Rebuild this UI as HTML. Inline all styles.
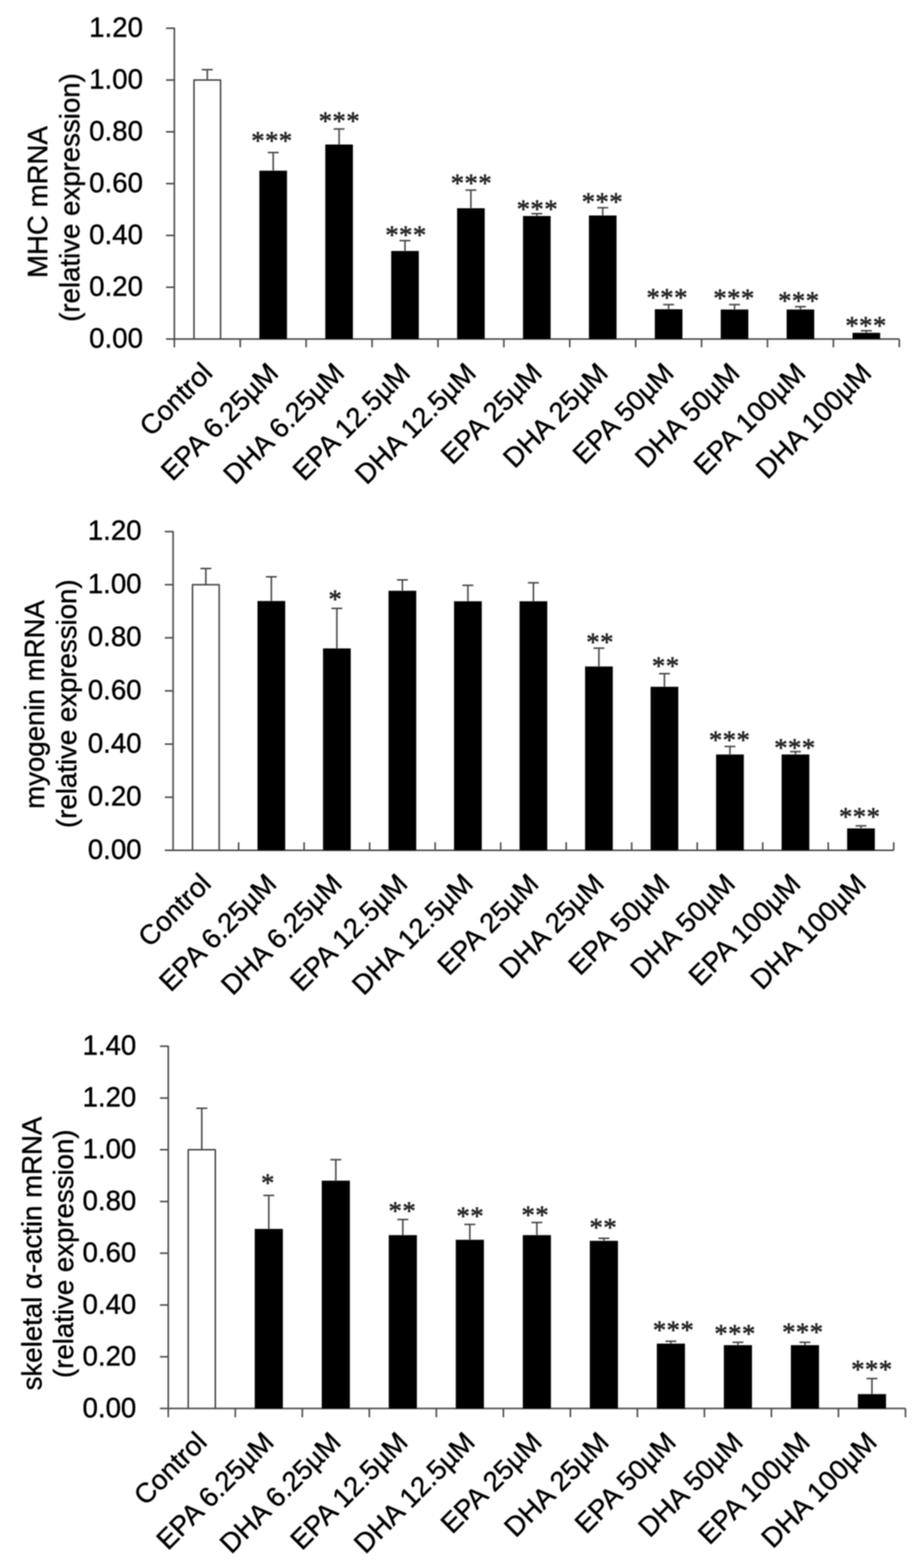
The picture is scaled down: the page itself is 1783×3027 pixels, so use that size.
<!DOCTYPE html>
<html lang="en">
<head>
<meta charset="utf-8">
<title>Relative mRNA expression</title>
<style>
html,body{margin:0;padding:0;background:#fff;}
body{width:1783px;height:3027px;overflow:hidden;}
svg{display:block;}
text{font-family:"Liberation Sans", sans-serif;font-size:53.3px;fill:#000;stroke:#000;stroke-width:0.8px;stroke-linejoin:round;}
.ln{fill:none;stroke:#484848;stroke-width:3;stroke-linejoin:round;}
.bar{fill:#000;}
.ctl{fill:none;stroke:#484848;stroke-width:3;stroke-linejoin:round;}
.tk{text-anchor:end;}
.xl{text-anchor:end;}
.yt{text-anchor:middle;}
.st{font-family:"Liberation Serif", serif;font-size:51.5px;letter-spacing:0.9px;text-anchor:middle;fill:#262626;stroke:#262626;stroke-width:1.1px;}
</style>
</head>
<body>
<svg width="1783" height="3027" viewBox="0 0 1783 3027">
<defs><filter id="soft" x="0" y="0" width="1783" height="3027" filterUnits="userSpaceOnUse"><feGaussianBlur stdDeviation="1"/></filter></defs>
<rect width="1783" height="3027" fill="#fff"/>
<g filter="url(#soft)">
<g class="chart">
<path class="ln" d="M320.4 54.5H336.4V654.5M320.4 654.5H1735.32M320.4 554.5H336.4M320.4 454.5H336.4M320.4 354.5H336.4M320.4 254.5H336.4M320.4 154.5H336.4M336.4 654.5v16M463.57 654.5v16M590.75 654.5v16M717.92 654.5v16M845.1 654.5v16M972.27 654.5v16M1099.45 654.5v16M1226.62 654.5v16M1353.8 654.5v16M1480.97 654.5v16M1608.15 654.5v16M1735.32 654.5v16"/>
<path class="ln" d="M399.99 154.5V134.5M389.49 134.5H410.49"/>
<path class="ctl" d="M374.34 654.5V154.5H425.64V654.5"/>
<path class="ln" d="M527.16 329.5V294.5M516.66 294.5H537.66"/>
<rect class="bar" x="500.51" y="329.5" width="53.3" height="325.3"/>
<text class="st" x="524.75" y="288.2">***</text>
<path class="ln" d="M654.34 279V249M643.84 249H664.84"/>
<rect class="bar" x="627.69" y="279" width="53.3" height="375.8"/>
<text class="st" x="654.95" y="249.5">***</text>
<path class="ln" d="M781.51 484.5V464.5M771.01 464.5H792.01"/>
<rect class="bar" x="754.86" y="484.5" width="53.3" height="170.3"/>
<text class="st" x="783.45" y="469.7">***</text>
<path class="ln" d="M908.69 402V367M898.19 367H919.19"/>
<rect class="bar" x="882.04" y="402" width="53.3" height="252.8"/>
<text class="st" x="909.7" y="369.7">***</text>
<path class="ln" d="M1035.86 417V412.5M1025.36 412.5H1046.36"/>
<rect class="bar" x="1009.21" y="417" width="53.3" height="237.8"/>
<text class="st" x="1036.95" y="420.2">***</text>
<path class="ln" d="M1163.04 416V401M1152.54 401H1173.54"/>
<rect class="bar" x="1136.39" y="416" width="53.3" height="238.8"/>
<text class="st" x="1162.45" y="405.7">***</text>
<path class="ln" d="M1290.21 597V588M1279.71 588H1300.71"/>
<rect class="bar" x="1263.56" y="597" width="53.3" height="57.8"/>
<text class="st" x="1287.45" y="591.2">***</text>
<path class="ln" d="M1417.39 597.5V588M1406.89 588H1427.89"/>
<rect class="bar" x="1390.74" y="597.5" width="53.3" height="57.3"/>
<text class="st" x="1416.45" y="592.2">***</text>
<path class="ln" d="M1544.56 597.5V592M1534.06 592H1555.06"/>
<rect class="bar" x="1517.91" y="597.5" width="53.3" height="57.3"/>
<text class="st" x="1541.45" y="596.7">***</text>
<path class="ln" d="M1671.74 642.5V638.5M1661.24 638.5H1682.24"/>
<rect class="bar" x="1645.09" y="642.5" width="53.3" height="12.3"/>
<text class="st" x="1671.2" y="644.7">***</text>
<text class="tk" x="275.8" y="671">0.00</text>
<text class="tk" x="275.8" y="571">0.20</text>
<text class="tk" x="275.8" y="471">0.40</text>
<text class="tk" x="275.8" y="371">0.60</text>
<text class="tk" x="275.8" y="271">0.80</text>
<text class="tk" x="275.8" y="171">1.00</text>
<text class="tk" x="275.8" y="71">1.20</text>
<text class="xl" transform="translate(412.99 723) rotate(-45)">Control</text>
<text class="xl" transform="translate(540.16 723) rotate(-45)">EPA 6.25µM</text>
<text class="xl" transform="translate(667.34 723) rotate(-45)">DHA 6.25µM</text>
<text class="xl" transform="translate(794.51 723) rotate(-45)">EPA 12.5µM</text>
<text class="xl" transform="translate(921.69 723) rotate(-45)">DHA 12.5µM</text>
<text class="xl" transform="translate(1048.86 723) rotate(-45)">EPA 25µM</text>
<text class="xl" transform="translate(1176.04 723) rotate(-45)">DHA 25µM</text>
<text class="xl" transform="translate(1303.21 723) rotate(-45)">EPA 50µM</text>
<text class="xl" transform="translate(1430.39 723) rotate(-45)">DHA 50µM</text>
<text class="xl" transform="translate(1557.56 723) rotate(-45)">EPA 100µM</text>
<text class="xl" transform="translate(1684.74 723) rotate(-45)">DHA 100µM</text>
<text class="yt" transform="translate(91 390.1) rotate(-90)">MHC mRNA</text>
<text class="yt" transform="translate(153 381.3) rotate(-90)">(relative expression)</text>
</g>
<g class="chart">
<path class="ln" d="M318 1026.14H334V1641.5M318 1641.5H1724.62M318 1538.94H334M318 1436.38H334M318 1333.82H334M318 1231.26H334M318 1128.7H334M334 1641.5v-15.5M460.42 1641.5v-15.5M586.84 1641.5v-15.5M713.26 1641.5v-15.5M839.68 1641.5v-15.5M966.1 1641.5v-15.5M1092.52 1641.5v-15.5M1218.94 1641.5v-15.5M1345.36 1641.5v-15.5M1471.78 1641.5v-15.5M1598.2 1641.5v-15.5M1724.62 1641.5v-15.5"/>
<path class="ln" d="M397.21 1128.7V1097.42M386.71 1097.42H407.71"/>
<path class="ctl" d="M371.46 1641.5V1128.7H422.96V1641.5"/>
<path class="ln" d="M523.63 1160.24V1113.47M513.13 1113.47H534.13"/>
<rect class="bar" x="496.88" y="1160.24" width="53.5" height="481.56"/>
<path class="ln" d="M650.05 1251.77V1174.6M639.55 1174.6H660.55"/>
<rect class="bar" x="623.3" y="1251.77" width="53.5" height="390.03"/>
<text class="st" x="647.2" y="1172.7">*</text>
<path class="ln" d="M776.47 1140.49V1119.47M765.97 1119.47H786.97"/>
<rect class="bar" x="749.72" y="1140.49" width="53.5" height="501.31"/>
<path class="ln" d="M902.89 1160.75V1129.98M892.39 1129.98H913.39"/>
<rect class="bar" x="876.14" y="1160.75" width="53.5" height="481.05"/>
<path class="ln" d="M1029.31 1160.75V1125.01M1018.81 1125.01H1039.81"/>
<rect class="bar" x="1002.56" y="1160.75" width="53.5" height="481.05"/>
<path class="ln" d="M1155.73 1286.64V1251.26M1145.23 1251.26H1166.23"/>
<rect class="bar" x="1128.98" y="1286.64" width="53.5" height="355.16"/>
<text class="st" x="1157.95" y="1255.7">**</text>
<path class="ln" d="M1282.15 1325.82V1300.49M1271.65 1300.49H1292.65"/>
<rect class="bar" x="1255.4" y="1325.82" width="53.5" height="315.98"/>
<text class="st" x="1284.65" y="1302.2">**</text>
<path class="ln" d="M1408.57 1456.53V1441M1398.07 1441H1419.07"/>
<rect class="bar" x="1381.82" y="1456.53" width="53.5" height="185.27"/>
<text class="st" x="1407.95" y="1445.2">***</text>
<path class="ln" d="M1534.99 1456.53V1450.99M1524.49 1450.99H1545.49"/>
<rect class="bar" x="1508.24" y="1456.53" width="53.5" height="185.27"/>
<text class="st" x="1533.95" y="1460.2">***</text>
<path class="ln" d="M1661.41 1599.25V1594.32M1650.91 1594.32H1671.91"/>
<rect class="bar" x="1634.66" y="1599.25" width="53.5" height="42.55"/>
<text class="st" x="1658.95" y="1593.2">***</text>
<text class="tk" x="273.2" y="1657.7">0.00</text>
<text class="tk" x="273.2" y="1555.14">0.20</text>
<text class="tk" x="273.2" y="1452.58">0.40</text>
<text class="tk" x="273.2" y="1350.02">0.60</text>
<text class="tk" x="273.2" y="1247.46">0.80</text>
<text class="tk" x="273.2" y="1144.9">1.00</text>
<text class="tk" x="273.2" y="1042.34">1.20</text>
<text class="xl" transform="translate(410.21 1709) rotate(-45)">Control</text>
<text class="xl" transform="translate(536.63 1709) rotate(-45)">EPA 6.25µM</text>
<text class="xl" transform="translate(663.05 1709) rotate(-45)">DHA 6.25µM</text>
<text class="xl" transform="translate(789.47 1709) rotate(-45)">EPA 12.5µM</text>
<text class="xl" transform="translate(915.89 1709) rotate(-45)">DHA 12.5µM</text>
<text class="xl" transform="translate(1042.31 1709) rotate(-45)">EPA 25µM</text>
<text class="xl" transform="translate(1168.73 1709) rotate(-45)">DHA 25µM</text>
<text class="xl" transform="translate(1295.15 1709) rotate(-45)">EPA 50µM</text>
<text class="xl" transform="translate(1421.57 1709) rotate(-45)">DHA 50µM</text>
<text class="xl" transform="translate(1547.99 1709) rotate(-45)">EPA 100µM</text>
<text class="xl" transform="translate(1674.41 1709) rotate(-45)">DHA 100µM</text>
<text class="yt" transform="translate(84.9 1360) rotate(-90)">myogenin mRNA</text>
<text class="yt" transform="translate(147 1358.5) rotate(-90)">(relative expression)</text>
</g>
<g class="chart">
<path class="ln" d="M308.7 2019.73H324.7V2719.1M308.7 2719.1H1747.22M308.7 2619.19H324.7M308.7 2519.28H324.7M308.7 2419.37H324.7M308.7 2319.46H324.7M308.7 2219.55H324.7M308.7 2119.64H324.7M324.7 2719.1v17M454.02 2719.1v17M583.34 2719.1v17M712.66 2719.1v17M841.98 2719.1v17M971.3 2719.1v17M1100.62 2719.1v17M1229.94 2719.1v17M1359.26 2719.1v17M1488.58 2719.1v17M1617.9 2719.1v17M1747.22 2719.1v17"/>
<path class="ln" d="M389.36 2219.55V2139.62M378.86 2139.62H399.86"/>
<path class="ctl" d="M363.21 2719.1V2219.55H415.51V2719.1"/>
<path class="ln" d="M518.68 2372.41V2307.77M508.18 2307.77H529.18"/>
<rect class="bar" x="491.53" y="2372.41" width="54.3" height="346.99"/>
<text class="st" x="517.2" y="2299.7">*</text>
<path class="ln" d="M648 2279.25V2238.73M637.5 2238.73H658.5"/>
<rect class="bar" x="620.85" y="2279.25" width="54.3" height="440.15"/>
<path class="ln" d="M777.32 2384.4V2354.28M766.82 2354.28H787.82"/>
<rect class="bar" x="750.17" y="2384.4" width="54.3" height="335"/>
<text class="st" x="776.45" y="2353.7">**</text>
<path class="ln" d="M906.64 2393.39V2363.77M896.14 2363.77H917.14"/>
<rect class="bar" x="879.49" y="2393.39" width="54.3" height="326.01"/>
<text class="st" x="907.45" y="2364.2">**</text>
<path class="ln" d="M1035.96 2384.4V2359.92M1025.46 2359.92H1046.46"/>
<rect class="bar" x="1008.81" y="2384.4" width="54.3" height="335"/>
<text class="st" x="1032.95" y="2361.7">**</text>
<path class="ln" d="M1165.28 2395.39V2390.4M1154.78 2390.4H1175.78"/>
<rect class="bar" x="1138.13" y="2395.39" width="54.3" height="324.01"/>
<text class="st" x="1164.2" y="2385.7">**</text>
<path class="ln" d="M1294.6 2593.81V2589.22M1284.1 2589.22H1305.1"/>
<rect class="bar" x="1267.45" y="2593.81" width="54.3" height="125.59"/>
<text class="st" x="1299.7" y="2583.7">***</text>
<path class="ln" d="M1423.92 2596.81V2591.27M1413.42 2591.27H1434.42"/>
<rect class="bar" x="1396.77" y="2596.81" width="54.3" height="122.59"/>
<text class="st" x="1418.45" y="2590.95">***</text>
<path class="ln" d="M1553.24 2596.81V2591.27M1542.74 2591.27H1563.74"/>
<rect class="bar" x="1526.09" y="2596.81" width="54.3" height="122.59"/>
<text class="st" x="1549.2" y="2587.95">***</text>
<path class="ln" d="M1682.56 2691.28V2661.3M1672.06 2661.3H1693.06"/>
<rect class="bar" x="1655.41" y="2691.28" width="54.3" height="28.12"/>
<text class="st" x="1682.45" y="2660.45">***</text>
<text class="tk" x="263" y="2735.6">0.00</text>
<text class="tk" x="263" y="2635.69">0.20</text>
<text class="tk" x="263" y="2535.78">0.40</text>
<text class="tk" x="263" y="2435.87">0.60</text>
<text class="tk" x="263" y="2335.96">0.80</text>
<text class="tk" x="263" y="2236.05">1.00</text>
<text class="tk" x="263" y="2136.14">1.20</text>
<text class="tk" x="263" y="2036.23">1.40</text>
<text class="xl" transform="translate(402.06 2787) rotate(-45)">Control</text>
<text class="xl" transform="translate(531.38 2787) rotate(-45)">EPA 6.25µM</text>
<text class="xl" transform="translate(660.7 2787) rotate(-45)">DHA 6.25µM</text>
<text class="xl" transform="translate(790.02 2787) rotate(-45)">EPA 12.5µM</text>
<text class="xl" transform="translate(919.34 2787) rotate(-45)">DHA 12.5µM</text>
<text class="xl" transform="translate(1048.66 2787) rotate(-45)">EPA 25µM</text>
<text class="xl" transform="translate(1177.98 2787) rotate(-45)">DHA 25µM</text>
<text class="xl" transform="translate(1307.3 2787) rotate(-45)">EPA 50µM</text>
<text class="xl" transform="translate(1436.62 2787) rotate(-45)">DHA 50µM</text>
<text class="xl" transform="translate(1565.94 2787) rotate(-45)">EPA 100µM</text>
<text class="xl" transform="translate(1695.26 2787) rotate(-45)">DHA 100µM</text>
<text class="yt" transform="translate(79.9 2419.85) rotate(-90)">skeletal α-actin mRNA</text>
<text class="yt" transform="translate(141 2420.35) rotate(-90)">(relative expression)</text>
</g>
</g>
</svg>
</body>
</html>
